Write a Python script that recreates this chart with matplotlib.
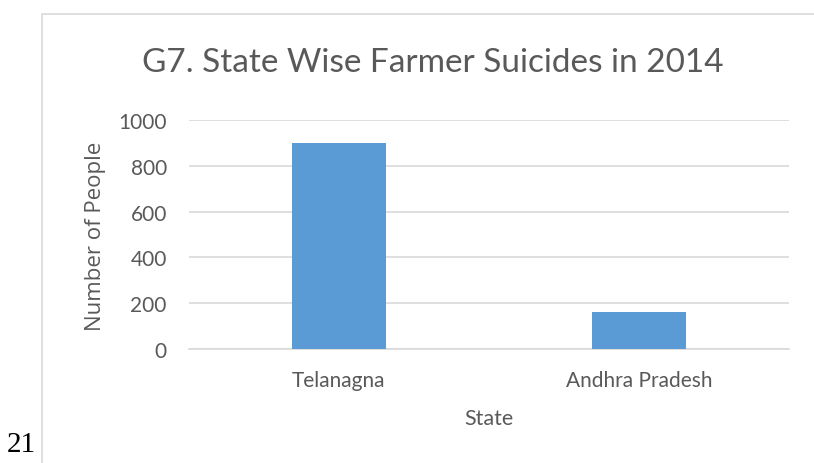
import matplotlib.pyplot as plt
from matplotlib.patches import Rectangle

# Дані
states = ['Telanagna', 'Andhra Pradesh']
suicides = [900, 160]
y_ticks = [0, 200, 400, 600, 800, 1000]

text_color = '#595959'
grid_color = '#D9D9D9'
bar_color = '#5B9BD5'
narrow = ['Lato', 'DejaVu Sans']

fig = plt.figure(figsize=(8.14, 4.64), dpi=100)
ax = fig.add_axes([189 / 814, 1 - 350 / 464, 600 / 814, 229 / 464])

# Рамка діаграми
fig.patches.append(Rectangle((42 / 814, -0.1), 1.2, 1 - 15 / 464 + 0.1,
                             transform=fig.transFigure, fill=False,
                             edgecolor=grid_color, linewidth=1.2))

x = range(len(states))
ax.bar(x, suicides, width=0.313, color=bar_color, zorder=3)

ax.set_xlim(-0.5, len(states) - 0.5)
ax.set_ylim(0, 1000)
ax.set_yticks(y_ticks)
ax.set_yticklabels([str(t) for t in y_ticks], family=narrow, fontsize=15, color=text_color)
ax.set_xticks(list(x))
ax.set_xticklabels(states, family=narrow, fontsize=15, color=text_color)
ax.tick_params(axis='both', length=0)
ax.tick_params(axis='y', pad=16)
ax.tick_params(axis='x', pad=15)

ax.grid(axis='y', color=grid_color, linewidth=1.2, zorder=0)
for side in ['top', 'right', 'left']:
    ax.spines[side].set_visible(False)
ax.spines['bottom'].set_color(grid_color)
ax.spines['bottom'].set_linewidth(1.2)

fig.text(433 / 814, 1 - 63 / 464, 'G7. State Wise Farmer Suicides in 2014',
         ha='center', va='center', family=narrow, fontsize=24, color=text_color)
fig.text(489 / 814, 1 - 419 / 464, 'State', ha='center', va='center',
         family=narrow, fontsize=15.5, color=text_color)
fig.text(96 / 814, 1 - 236 / 464, 'Number of People', ha='center', va='center',
         rotation=90, family=['Open Sans', 'DejaVu Sans'], fontsize=16, color=text_color)
fig.text(7 / 814, 1 - 445 / 464, '21', ha='left', va='center',
         family=['Liberation Serif', 'DejaVu Serif'], fontsize=21, color='black')

fig.savefig('out.png', dpi=100)
